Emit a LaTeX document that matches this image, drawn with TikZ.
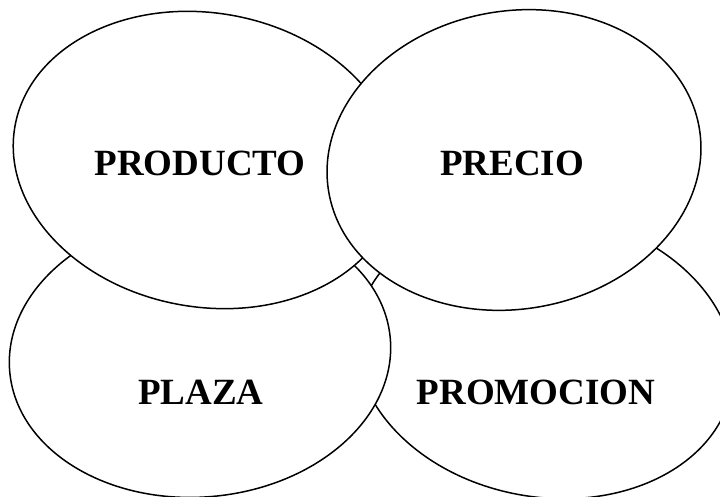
\documentclass[tikz,border=0pt]{standalone}
\usepackage{fontspec}
\setmainfont{Liberation Serif}
\usepackage{tikz}
\usetikzlibrary{positioning}

\tikzset{
    circulo/.style={draw=black, fill=white, line width=1.5pt},
    rotulo/.style={font=\fontsize{37}{40}\selectfont\bfseries}
}

\begin{document}
\begin{tikzpicture}[x=1pt, y=1pt]
    \useasboundingbox (0,0) rectangle (720,497);
    \clip (0,0) rectangle (720,497);

    % Promocion
    \filldraw[circulo, rotate around={-10:(545,142)}] (545,142) ellipse [x radius=190, y radius=142];
    \node[rotulo] (promocion) at (536,105) {PROMOCION};

    % Plaza
    \filldraw[circulo, rotate around={5:(200,142)}] (200,142) ellipse [x radius=191, y radius=142];
    \node[rotulo] (plaza) at (201,105) {PLAZA};

    % Producto
    \filldraw[circulo, rotate around={-10:(206,337)}] (206,337) ellipse [x radius=194, y radius=147];
    \node[rotulo] (producto) at (200,334) {PRODUCTO};

    % Precio
    \filldraw[circulo, rotate around={10:(514,337)}] (514,337) ellipse [x radius=188, y radius=149];
    \node[rotulo] (precio) at (512,334) {PRECIO};
\end{tikzpicture}
\end{document}
